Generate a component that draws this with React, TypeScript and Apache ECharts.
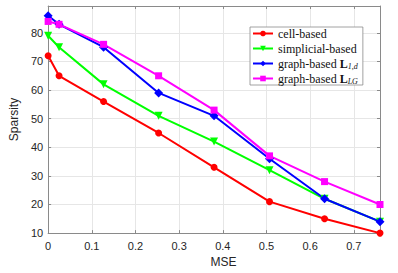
import React, { useEffect, useRef } from "react";
import * as echarts from "echarts";

const mse = [0, 0.025, 0.127, 0.253, 0.38, 0.507, 0.633, 0.76];
const cellBased = [72, 65, 56, 45, 33, 21, 15, 10];
const simplicialBased = [79, 75, 62, 51, 42, 32, 22, 14];
const graphL1d = [86, 83, 75, 59, 51, 36, 22, 14];
const graphLLG = [84, 83, 76, 65, 53, 37, 28, 20];
const seriesNames = ["cell-based", "simplicial-based", "graph-based L1,d", "graph-based LLG"];

const pairs = (ys: number[]) => mse.map((x, i) => [x, ys[i]]);

export default function App() {
  const ref = useRef<HTMLDivElement>(null);
  useEffect(() => {
    if (!ref.current) return;
    const chart = echarts.init(ref.current, null, { renderer: "svg" });
    const axisColor = "#8a8a8a";
    const labelColor = "#262626";
    const sans = "Liberation Sans, Arial, sans-serif";
    const serif = "Liberation Serif, Times New Roman, serif";
    const lineSeries = (name: string, data: number[], color: string, symbol: string, size: number, rotate = 0) => ({
      name,
      type: "line",
      data: pairs(data),
      symbol,
      symbolSize: size,
      symbolRotate: rotate,
      showAllSymbol: true,
      lineStyle: { color, width: 2 },
      itemStyle: { color, borderWidth: 0 },
      z: 3,
    });
    chart.setOption({
      animation: false,
      backgroundColor: "#ffffff",
      grid: { left: 47, right: 18, top: 6, bottom: 36 },
      legend: {
        orient: "vertical",
        left: 250,
        top: 27,
        padding: [0, 5, 0, 2],
        itemWidth: 20,
        itemHeight: 7,
        itemGap: 2,
        backgroundColor: "#ffffff",
        borderColor: "#8a8a8a",
        borderWidth: 0.8,
        borderRadius: 0,
        data: seriesNames,
        textStyle: {
          fontFamily: serif,
          fontSize: 12,
          color: "#111111",
          lineHeight: 13,
          rich: {
            b: { fontFamily: serif, fontSize: 12, fontWeight: "bold", color: "#111111", lineHeight: 13 },
            s: { fontFamily: serif, fontSize: 8, fontStyle: "italic", color: "#111111", lineHeight: 13, padding: [5, 0, 0, 0] },
          },
        },
        formatter: (n: string) => {
          if (n === seriesNames[2]) return "graph-based {b|L}{s|1,d}";
          if (n === seriesNames[3]) return "graph-based {b|L}{s|LG}";
          return n;
        },
      },
      xAxis: [
        {
          type: "value",
          min: 0,
          max: 0.76,
          interval: 0.1,
          name: "MSE",
          nameLocation: "middle",
          nameGap: 19,
          nameTextStyle: { fontFamily: sans, fontSize: 12, color: labelColor, padding: [0, 0, 0, 19] },
          axisLine: { show: true, onZero: false, lineStyle: { color: axisColor, width: 1 } },
          axisTick: { show: true, inside: true, length: 3, lineStyle: { color: axisColor } },
          axisLabel: {
            fontFamily: sans,
            fontSize: 11,
            color: labelColor,
            margin: 7,
            showMaxLabel: false,
            formatter: (v: number) => String(Math.round(v * 10) / 10),
          },
          splitLine: { show: true, lineStyle: { color: "#e6e6e6", width: 1 } },
        },
        {
          type: "value",
          position: "top",
          min: 0,
          max: 0.76,
          interval: 0.1,
          axisLine: { show: true, onZero: false, lineStyle: { color: axisColor, width: 1 } },
          axisTick: { show: true, inside: true, length: 3, lineStyle: { color: axisColor } },
          axisLabel: { show: false },
          splitLine: { show: false },
        },
      ],
      yAxis: [
        {
          type: "value",
          min: 10,
          max: 89.4,
          interval: 10,
          name: "Sparsity",
          nameLocation: "middle",
          nameGap: 27,
          nameTextStyle: { fontFamily: sans, fontSize: 12, color: labelColor },
          axisLine: { show: true, onZero: false, lineStyle: { color: axisColor, width: 1 } },
          axisTick: { show: true, inside: true, length: 3, lineStyle: { color: axisColor } },
          axisLabel: { fontFamily: sans, fontSize: 11, color: labelColor, margin: 5, showMaxLabel: false },
          splitLine: { show: true, lineStyle: { color: "#e6e6e6", width: 1 } },
        },
        {
          type: "value",
          position: "right",
          min: 10,
          max: 89.4,
          interval: 10,
          axisLine: { show: true, onZero: false, lineStyle: { color: axisColor, width: 1 } },
          axisTick: { show: true, inside: true, length: 3, lineStyle: { color: axisColor } },
          axisLabel: { show: false },
          splitLine: { show: false },
        },
      ],
      series: [
        lineSeries(seriesNames[0], cellBased, "#ff0000", "circle", 7),
        lineSeries(seriesNames[1], simplicialBased, "#00ff00", "triangle", 8, 180),
        lineSeries(seriesNames[2], graphL1d, "#0000ff", "diamond", 9),
        lineSeries(seriesNames[3], graphLLG, "#ff00ff", "rect", 7),
      ],
    });
    return () => chart.dispose();
  }, []);
  return <div ref={ref} style={{ width: 398, height: 273, position: "absolute", left: 0, top: 0 }} />;
}
